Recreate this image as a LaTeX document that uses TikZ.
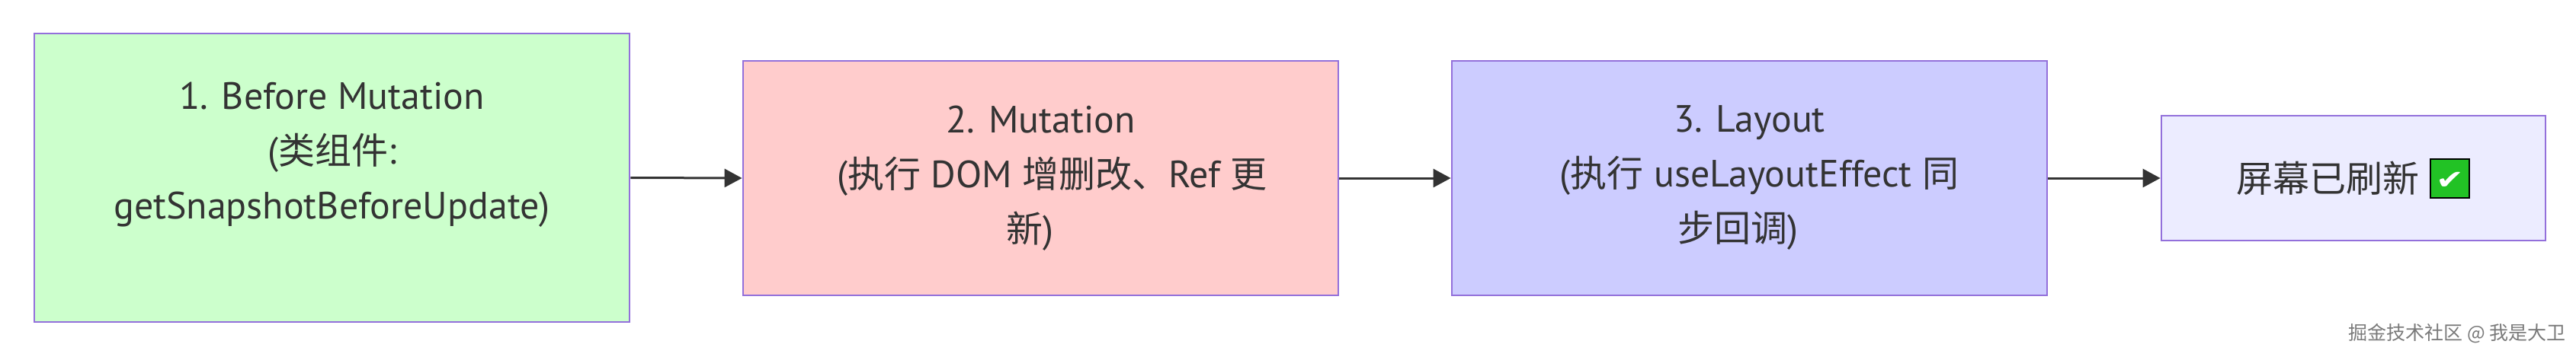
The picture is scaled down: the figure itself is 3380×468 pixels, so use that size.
\documentclass[tikz,border=0pt]{standalone}
\usepackage{fontspec}
\setmainfont{PT Sans}[Scale=1.04]
\newfontfamily\cjk{Noto Sans CJK SC}
\newfontfamily\dejavu{DejaVu Sans}
\usetikzlibrary{arrows.meta}
\definecolor{txt}{HTML}{333333}
\definecolor{bord}{HTML}{9370DB}
\definecolor{fgreen}{HTML}{CCFFCC}
\definecolor{fred}{HTML}{FFCCCC}
\definecolor{fblue}{HTML}{CCCCFF}
\definecolor{fdef}{HTML}{ECECFF}
\definecolor{ckgreen}{HTML}{22C225}
\definecolor{wmark}{HTML}{7A7A7A}
\tikzset{
  stagebox/.style={draw=bord, line width=1.4pt, rectangle, inner sep=0pt,
    text=txt, align=center, minimum width=390.5pt,
    font=\fontsize{24pt}{36pt}\selectfont},
  arr/.style={draw=txt, line width=1.5pt, -{Triangle[length=11.5pt,width=12pt]}},
}
\newcommand{\checkicon}{\raisebox{-3.2pt}{\setlength\fboxrule{1pt}\setlength\fboxsep{0pt}%
  \fcolorbox{black}{ckgreen}{\makebox[24.5pt]{\rule{0pt}{24.5pt}\raisebox{5.2pt}{\color{white}\dejavu\fontsize{22pt}{22pt}\selectfont\scalebox{1}[0.8]{✔}}}}}}
\begin{document}
\begin{tikzpicture}[x=0.5pt,y=-0.5pt]
\useasboundingbox[fill=white] (0,0) rectangle (3380,468);
\node[stagebox, fill=fgreen, minimum height=189.5pt] (b1) at (435.5,233.5)
  {1. Before Mutation\\({\cjk 类组件}:\\getSnapshotBeforeUpdate)\\\mbox{}};
\node[stagebox, fill=fred, minimum height=154pt] (b2) at (1365.5,234)
  {2. Mutation\\\hspace*{15pt}({\cjk 执行} DOM {\cjk 增删改、}Ref {\cjk 更}\\{\cjk 新})\hspace*{14pt}};
\node[stagebox, fill=fblue, minimum height=154pt] (b3) at (2295.5,234)
  {3. Layout\\\hspace*{13pt}({\cjk 执行} useLayoutEffect {\cjk 同}\\{\cjk 步回调})\hspace*{15pt}};
\node[stagebox, fill=fdef, minimum width=252pt, minimum height=82pt] (b4) at (3088,234)
  {{\cjk 屏幕已刷新} \checkicon};
\draw[arr] (b1.east) -- (b2.west);
\draw[arr] (b2.east) -- (b3.west);
\draw[arr] (b3.east) -- (b4.west);
\node[anchor=base east, inner sep=0pt, text=wmark, font=\cjk\fontsize{12.5pt}{14pt}\selectfont] (wm) at (3367,446) {掘金技术社区 @ 我是大卫};
\end{tikzpicture}
\end{document}
